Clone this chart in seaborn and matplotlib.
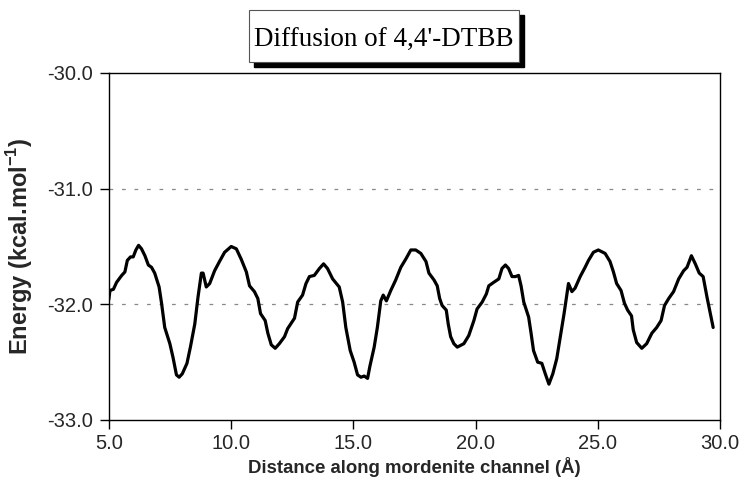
import matplotlib
matplotlib.use("Agg")
import matplotlib.pyplot as plt
from matplotlib.patches import Rectangle
import seaborn as sns
import pandas as pd

distance = [4.99, 5.04, 5.18, 5.31, 5.52, 5.65, 5.75, 5.88, 5.99, 6.10, 6.21, 6.33, 6.47, 6.61,
            6.74, 6.87, 7.05, 7.15, 7.28, 7.49, 7.62, 7.76, 7.87, 8.00, 8.19, 8.33, 8.51, 8.64,
            8.78, 8.85, 8.98, 9.12, 9.32, 9.52, 9.73, 10.0, 10.21, 10.41, 10.62, 10.75, 10.95,
            11.09, 11.2, 11.39, 11.5, 11.64, 11.80, 11.97, 12.18, 12.31, 12.59, 12.72, 12.92,
            13.06, 13.20, 13.40, 13.61, 13.78, 13.94, 14.15, 14.42, 14.56, 14.69, 14.87, 15.03,
            15.17, 15.31, 15.44, 15.58, 15.67, 15.85, 15.98, 16.12, 16.22, 16.35, 16.53, 16.73,
            16.94, 17.14, 17.35, 17.55, 17.76, 17.97, 18.09, 18.30, 18.43, 18.53, 18.63, 18.80,
            18.88, 18.98, 19.11, 19.25, 19.52, 19.72, 19.93, 20.06, 20.27, 20.44, 20.54, 20.74,
            20.95, 21.08, 21.22, 21.35, 21.49, 21.63, 21.76, 21.86, 21.97, 22.17, 22.27, 22.37,
            22.54, 22.71, 22.85, 23.0, 23.16, 23.32, 23.49, 23.62, 23.73, 23.80, 23.94, 24.07,
            24.28, 24.48, 24.62, 24.82, 25.02, 25.30, 25.50, 25.64, 25.77, 25.95, 26.09, 26.22,
            26.38, 26.45, 26.59, 26.80, 27.00, 27.21, 27.41, 27.59, 27.73, 27.90, 28.10, 28.31,
            28.51, 28.65, 28.83, 28.99, 29.15, 29.31, 29.47, 29.72]
energy = [-31.96, -31.88, -31.87, -31.81, -31.75, -31.72, -31.62, -31.59, -31.59, -31.53, -31.49,
          -31.52, -31.58, -31.66, -31.68, -31.73, -31.85, -31.99, -32.20, -32.34, -32.46, -32.61,
          -32.63, -32.60, -32.51, -32.37, -32.17, -31.94, -31.73, -31.73, -31.85, -31.82, -31.71,
          -31.63, -31.55, -31.50, -31.52, -31.61, -31.72, -31.84, -31.89, -31.95, -32.08, -32.14,
          -32.25, -32.35, -32.38, -32.34, -32.28, -32.21, -32.12, -31.98, -31.92, -31.82, -31.76,
          -31.75, -31.69, -31.65, -31.69, -31.78, -31.85, -31.98, -32.20, -32.40, -32.50, -32.61,
          -32.63, -32.62, -32.64, -32.54, -32.37, -32.20, -31.97, -31.92, -31.97, -31.88, -31.79,
          -31.68, -31.61, -31.53, -31.53, -31.56, -31.63, -31.73, -31.79, -31.84, -31.95, -32.01,
          -32.05, -32.17, -32.28, -32.34, -32.37, -32.34, -32.27, -32.14, -32.04, -31.98, -31.91,
          -31.84, -31.81, -31.78, -31.69, -31.66, -31.69, -31.76, -31.76, -31.75, -31.84, -31.98,
          -32.11, -32.25, -32.40, -32.50, -32.51, -32.60, -32.69, -32.60, -32.47, -32.25, -32.08,
          -31.92, -31.82, -31.89, -31.86, -31.76, -31.68, -31.62, -31.55, -31.53, -31.56, -31.63,
          -31.72, -31.82, -31.88, -31.99, -32.05, -32.10, -32.22, -32.33, -32.38, -32.34, -32.25,
          -32.20, -32.14, -32.01, -31.95, -31.89, -31.78, -31.71, -31.68, -31.58, -31.65, -31.73,
          -31.76, -31.94, -32.20]

x_ticks = [5.0, 10.0, 15.0, 20.0, 25.0, 30.0]
y_ticks = [-33.0, -32.0, -31.0, -30.0]
title = "Diffusion of 4,4'-DTBB"
x_label = "Distance along mordenite channel (Å)"
y_label = "Energy (kcal.mol$^{\\mathregular{-1}}$)"

sns.set_theme(style="white")
plt.rcParams['font.family'] = ['Liberation Sans', 'DejaVu Sans']

df = pd.DataFrame({"x": distance, "y": energy})

W, H = 740, 496
fig = plt.figure(figsize=(W / 100, H / 100), dpi=100)
ax = fig.add_axes([109 / W, 1 - 420 / H, 611 / W, 347 / H])

sns.lineplot(data=df, x="x", y="y", ax=ax, color="black", linewidth=2.3,
             sort=False, estimator=None)

ax.set_xlim(5.0, 30.0)
ax.set_ylim(-33.0, -30.0)
ax.set_xticks(x_ticks)
ax.set_yticks(y_ticks)
ax.set_xticklabels([f"{v:.1f}" for v in x_ticks], fontsize=14.5)
ax.set_yticklabels([f"{v:.1f}" for v in y_ticks], fontsize=14.5)
ax.tick_params(axis="both", which="major", direction="out", length=6.5, width=1,
               color="black", bottom=True, left=True, top=False, right=False, pad=5)
ax.tick_params(axis="x", pad=3.5)
for s in ax.spines.values():
    s.set_color("black")
    s.set_linewidth(1.0)

for yv in [-31.0, -32.0]:
    ax.axhline(yv, color="#888888", linestyle=(0, (3, 7)), linewidth=0.9, zorder=0)

ax.set_xlabel(x_label, fontsize=13.4, fontweight="bold", labelpad=3)
ax.set_ylabel(y_label, fontsize=17, fontweight="bold")
ax.yaxis.set_label_coords((35 - 109) / 611, 0.5)

# Title box with drop shadow (figure pixel geometry)
bx0, bx1, by0, by1, sh = 249, 519, 10, 62, 5
fig.patches.append(Rectangle(((bx0 + sh) / W, 1 - (by1 + sh) / H), (bx1 - bx0) / W,
                             (by1 - by0) / H, transform=fig.transFigure,
                             facecolor="black", edgecolor="black", zorder=1))
fig.patches.append(Rectangle((bx0 / W, 1 - by1 / H), (bx1 - bx0) / W, (by1 - by0) / H,
                             transform=fig.transFigure, facecolor="white",
                             edgecolor="#555555", linewidth=0.8, zorder=2))
fig.text((bx0 + bx1) / 2 / W, 1 - 47 / H, title, ha="center", va="baseline",
         fontsize=19.5, family="Liberation Serif", color="black", zorder=3)

fig.savefig("out.png", dpi=100)
